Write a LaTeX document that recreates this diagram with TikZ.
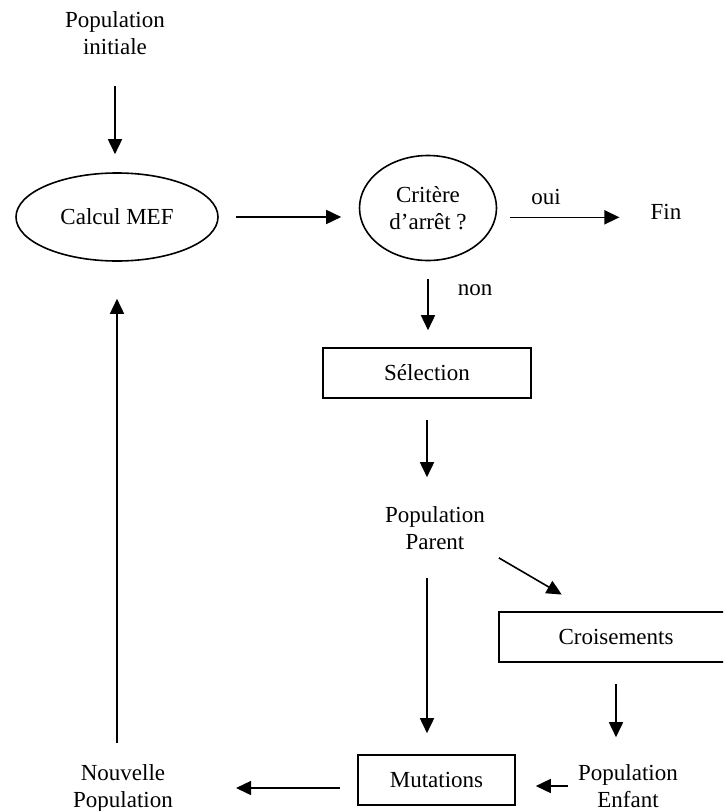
\documentclass[tikz,border=0pt]{standalone}
\usepackage{fontspec}
\setmainfont{Liberation Serif}
\usetikzlibrary{arrows.meta,shapes.geometric}

\begin{document}
\begin{tikzpicture}[x=1pt,y=-1pt,
		lbl/.style={align=center,inner sep=0pt,font=\fontsize{23}{27}\selectfont},
		boite/.style={lbl,draw,line width=1.6pt,rectangle,minimum height=50pt},
		bulle/.style={lbl,draw,line width=1.6pt,ellipse},
		fleche/.style={line width=1.6pt,-{Triangle[length=15pt,width=14pt]}}]
			%%%%% START %%%%%
			
			\clip (0,0) rectangle (723,811);
			
			\node[lbl] (pi) at (115,33) {Population\\initiale};
			\node[bulle,minimum width=202pt,minimum height=88pt] (calc) at (117,217) {Calcul MEF};
			\node[bulle,minimum width=137pt,minimum height=105pt] (crit) at (428,208) {Critère\\d'arrêt ?};
			\node[lbl] (oui) at (546,197) {oui};
			\node[lbl] (fin) at (666,212) {Fin};
			\node[lbl] (non) at (475,290) {non};
			
			\node[boite,minimum width=208pt] (sel) at (427,373) {Sélection};
			\node[lbl] (pp) at (435,528) {Population\\Parent};
			\node[boite,minimum width=234pt] (crois) at (616,637) {Croisements};
			\node[boite,minimum width=157pt] (mut) at (436.5,780) {Mutations};
			\node[lbl] (pe) at (628,786) {Population\\Enfant};
			\node[lbl] (np) at (123,788) {Nouvelle\\Population};
			
			\draw[fleche,shorten <=31pt,shorten >=18pt] (pi.south) -- (pi.south |- calc.north);
			\draw[fleche,shorten <=17pt,shorten >=17.5pt] (calc.east) -- (calc.east -| crit.west);
			\draw[fleche,shorten <=12.5pt,shorten >=31pt] (crit.east |- fin.mid west) -- (fin.mid west);
			\draw[fleche,shorten <=17.5pt,shorten >=17pt] (crit.south) -- (crit.south |- sel.north);
			\draw[fleche,shorten <=21pt,shorten >=29pt] (sel.south) -- (sel.south |- pp.north);
			\draw[fleche,shorten <=16pt,shorten >=33pt] (pp.south east) -- (crois.135);
			\draw[fleche,shorten <=21pt,shorten >=27pt] (crois.south) -- (crois.south |- pe.north);
			\draw[fleche,shorten <=28pt,shorten >=21pt] (sel.south |- pp.south) -- (sel.south |- mut.north);
			\draw[fleche,shorten <=10pt,shorten >=20pt] (pe.west) -- (pe.west -| mut.east);
			\draw[fleche,shorten <=17pt,shorten >=63pt] (mut.west |- np.east) -- (np.east);
			\draw[fleche,shorten <=21pt,shorten >=37pt] (calc.south |- np.north) -- (calc.south);
			
			%%%%% END %%%%%
		\end{tikzpicture}
\end{document}
